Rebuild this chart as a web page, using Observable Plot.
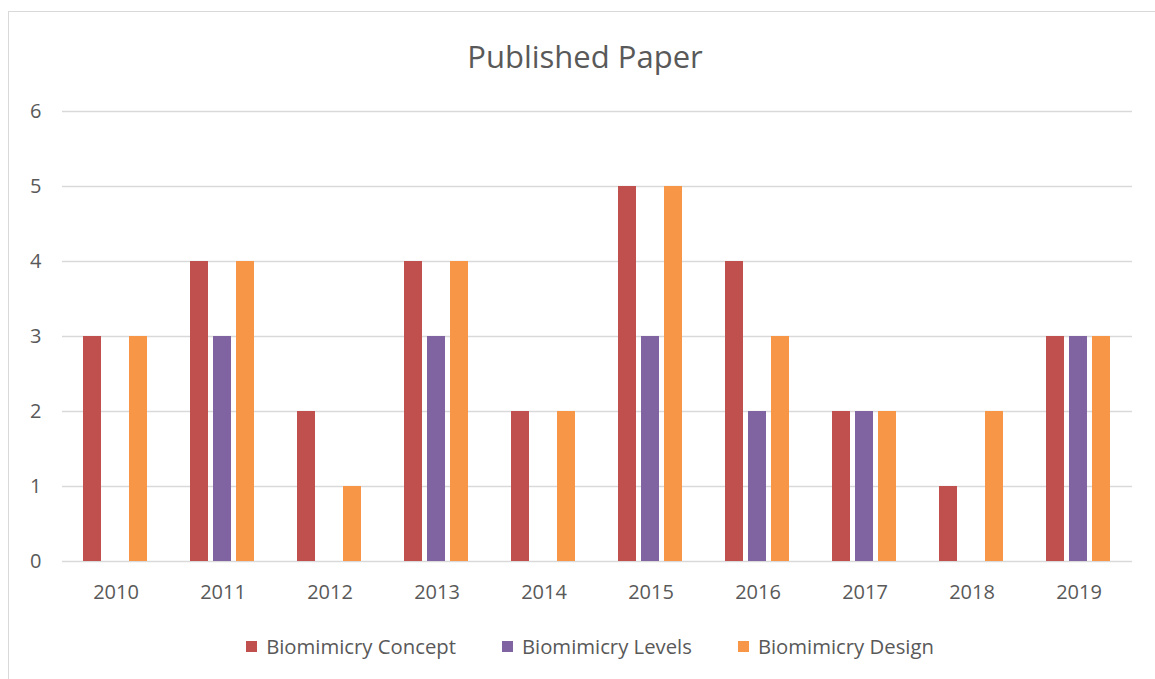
<!DOCTYPE html>
<html>
<head>
<meta charset="utf-8">
<script src="https://cdn.jsdelivr.net/npm/d3@7"></script>
<script src="https://cdn.jsdelivr.net/npm/@observablehq/plot@0.6"></script>
<style>
  html, body { margin: 0; padding: 0; background: #fff; overflow: hidden; }
  body { width: 1155px; height: 679px; position: relative; font-family: "Open Sans", sans-serif; color: #595959; }
  #frame { position: absolute; left: 8px; top: 11px; width: 1170px; height: 720px; border: 1.5px solid #d9d9d9; box-sizing: border-box; }
  #title { position: absolute; left: 0; top: 36px; width: 1170px; text-align: center; font-size: 31px; line-height: 40px; color: #595959; }
  #chart { position: absolute; left: 0; top: 0; }
  #legend { position: absolute; left: 0; top: 632px; width: 1180px; display: flex; justify-content: center; gap: 46px; font-size: 20.3px; line-height: 28px; }
  .item { display: flex; align-items: center; }
  .sw { width: 11px; height: 11px; margin-right: 9px; }
</style>
</head>
<body>
<div id="frame"></div>
<div id="title">Published Paper</div>
<div id="chart"></div>
<div id="legend"></div>
<script>
const years = ["2010","2011","2012","2013","2014","2015","2016","2017","2018","2019"];
const seriesNames = ["Biomimicry Concept","Biomimicry Levels","Biomimicry Design"];
const seriesColors = ["#C0504D","#8064A2","#F79646"];
const conceptValues = [3,4,2,4,2,5,4,2,1,3];
const levelsValues  = [0,3,0,3,0,3,2,2,0,3];
const designValues  = [3,4,1,4,2,5,3,2,2,3];
const yTicks = [0,1,2,3,4,5,6];

const valuesBySeries = [conceptValues, levelsValues, designValues];
const rows = [];
years.forEach((yr, i) => {
  seriesNames.forEach((s, j) => rows.push({year: yr, series: s, value: valuesBySeries[j][i]}));
});

const chart = Plot.plot({
  width: 1155,
  height: 620,
  marginLeft: 61,
  marginRight: 22,
  marginTop: 111,
  marginBottom: 59,
  style: {fontFamily: "Open Sans, sans-serif", fontSize: "20px", color: "#595959", background: "transparent", overflow: "visible"},
  fx: {domain: years, padding: 0, label: null, tickSize: 0, tickPadding: 23},
  x: {domain: seriesNames, axis: null, paddingInner: 0.2, paddingOuter: 0.9},
  y: {domain: [0, 6], ticks: yTicks, tickFormat: d3.format("d"), tickSize: 0, tickPadding: 21, label: null},
  color: {domain: seriesNames, range: seriesColors},
  marks: [
    Plot.ruleY(yTicks, {stroke: "#d9d9d9", strokeWidth: 1.5}),
    Plot.barY(rows, {fx: "year", x: "series", y: "value", fill: "series"})
  ]
});
document.getElementById("chart").appendChild(chart);

const legend = document.getElementById("legend");
seriesNames.forEach((s, j) => {
  const item = document.createElement("div");
  item.className = "item";
  const sw = document.createElement("span");
  sw.className = "sw";
  sw.style.background = seriesColors[j];
  const t = document.createElement("span");
  t.textContent = s;
  item.appendChild(sw);
  item.appendChild(t);
  legend.appendChild(item);
});
</script>
</body>
</html>
